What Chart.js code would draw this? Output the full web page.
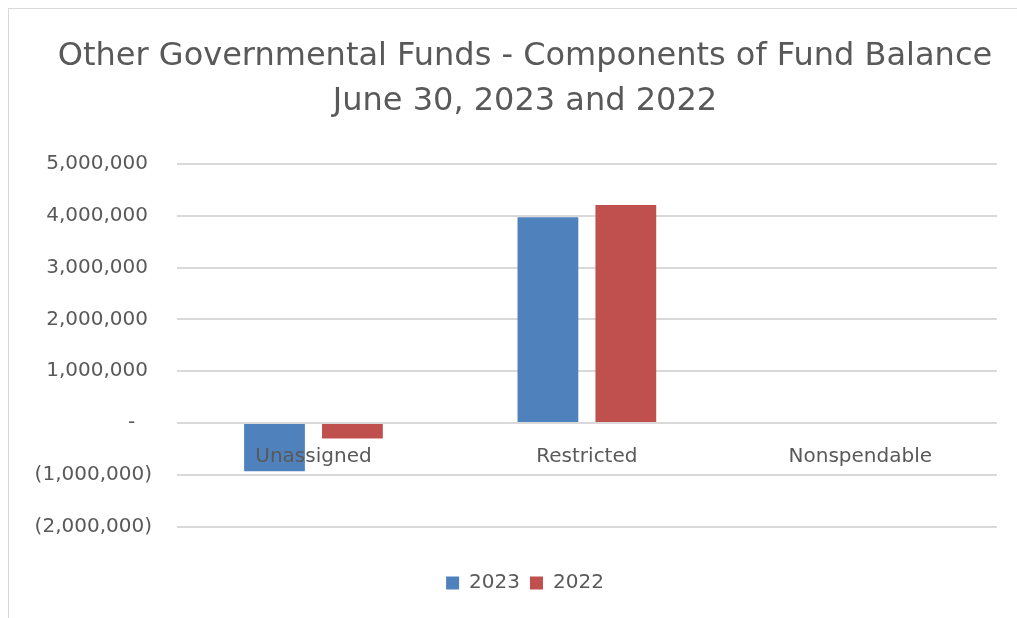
<!DOCTYPE html>
<html>
<head>
<meta charset="utf-8">
<script src="https://cdn.jsdelivr.net/npm/chart.js@4.4.1/dist/chart.umd.min.js"></script>
<style>
  html, body { margin: 0; padding: 0; background: #ffffff; width: 1017px; height: 618px; overflow: hidden; }
  #frame { position: absolute; left: 8px; top: 8px; width: 1009px; height: 610px; border-left: 1px solid #d9d9d9; border-top: 1px solid #d9d9d9; box-sizing: border-box; }
  #wrap { position: absolute; left: 0; top: 0; width: 1017px; height: 618px; }
</style>
</head>
<body>
<div id="frame"></div>
<div id="wrap"><canvas id="chart"></canvas></div>
<script>
// Fund balance components, in dollars
const categories = ['Unassigned', 'Restricted', 'Nonspendable'];
const values2023 = [-930000, 3970000, 0];
const values2022 = [-300000, 4210000, 0];
const seriesLabels = ['2023', '2022'];
const titleLines = ['Other Governmental Funds - Components of Fund Balance', 'June 30, 2023 and 2022'];
const yMin = -2000000;
const yMax = 5000000;
const yStep = 1000000;

const FONT = "'DejaVu Sans', sans-serif";
const TEXT = '#595959';

// Accounting-style tick labels: negatives in parentheses, zero as a dash
function accounting(v) {
  if (v === 0) return '-  \u2009';
  const s = Math.abs(v).toLocaleString('en-US');
  return v < 0 ? '(' + s + ')' : s + '\u2009';
}

new Chart(document.getElementById('chart'), {
  type: 'bar',
  data: {
    labels: categories,
    datasets: [
      { label: seriesLabels[0], data: values2023, backgroundColor: '#4F81BD', borderWidth: 0 },
      { label: seriesLabels[1], data: values2022, backgroundColor: '#C0504D', borderWidth: 0 }
    ]
  },
  options: {
    responsive: true,
    maintainAspectRatio: false,
    animation: false,
    categoryPercentage: 0.57,
    barPercentage: 0.78,
    layout: { padding: { left: 34.6, right: 1.6, top: 0, bottom: 15 } },
    scales: {
      x: {
        position: { y: 0 },
        grid: { display: false, drawTicks: false },
        border: { display: false },
        // category names sit on the zero line, drawn over the bars
        ticks: { z: 1, color: TEXT, font: { family: FONT, size: 20 }, padding: 22 }
      },
      y: {
        min: yMin,
        max: yMax,
        grid: { color: '#d9d9d9', lineWidth: 2, drawTicks: false },
        border: { display: false },
        ticks: {
          stepSize: yStep,
          color: TEXT,
          font: { family: FONT, size: 20 },
          padding: 24.75,
          callback: (v) => accounting(v)
        },
        afterFit: (scale) => { scale.width = 142.15; }
      },
      // empty right-hand gutter between the plot and the frame edge
      gutter: {
        type: 'linear',
        position: 'right',
        grid: { display: false, drawTicks: false },
        border: { display: false },
        ticks: { display: false },
        afterFit: (scale) => { scale.width = 18.4; }
      }
    },
    plugins: {
      title: {
        display: true,
        text: titleLines,
        color: TEXT,
        font: { family: FONT, size: 32, weight: 'normal', lineHeight: 45 / 32 },
        padding: { top: 34.5, bottom: 39.5 }
      },
      legend: {
        position: 'bottom',
        title: { display: true, text: '', font: { size: 2, lineHeight: 1 }, padding: { top: 34.3, bottom: 0 } },
        labels: { color: TEXT, font: { family: FONT, size: 20 }, boxWidth: 13, boxHeight: 13, padding: 10 }
      },
      tooltip: { enabled: false }
    }
  }
});
</script>
</body>
</html>
